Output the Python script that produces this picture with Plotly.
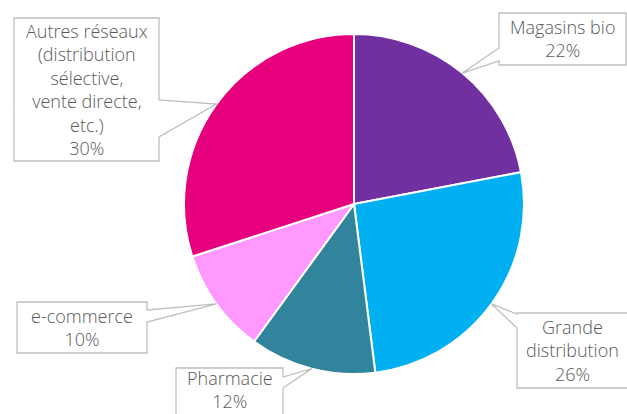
import math
import plotly.graph_objects as go

# ---- data ----
labels = ["Magasins bio", "Grande distribution", "Pharmacie", "e-commerce",
          "Autres réseaux (distribution sélective, vente directe, etc.)"]
label_text = ["Magasins bio", "Grande<br>distribution", "Pharmacie", "e-commerce",
              "Autres réseaux<br>(distribution<br>sélective,<br>vente directe,<br>etc.)"]
values = [22, 26, 12, 10, 30]
colors = ["#7030A0", "#00B0F0", "#31849B", "#FF99FF", "#E6007E"]

# ---- layout geometry (window pixels, origin top-left) ----
W, H = 627, 414
CX, CY, R = 354, 204, 170
# callout boxes: (x0, y0, x1, y1, side, base_a, base_b)
boxes = [
    (499, 13, 626, 65, "left", 48, 61),
    (517, 313, 640, 388, "left", 314, 328),
    (176, 368, 283, 430, "right", 377, 388),
    (17, 302, 147, 353, "right", 310, 322),
    (14, 18, 159, 161, "right", 100, 137),
]
text_dy = [0, 0, -3, 0, 0]

def px(x, y):
    return x / W, 1 - y / H

dx0, dy1 = px(CX - R, CY - R)
dx1, dy0 = px(CX + R, CY + R)
fig = go.Figure(go.Pie(
    labels=labels, values=values, sort=False, direction="clockwise", rotation=0,
    marker=dict(colors=colors, line=dict(color="white", width=2)),
    textinfo="none", hoverinfo="label+percent", showlegend=False,
    domain=dict(x=[dx0, dx1], y=[dy0, dy1]),
))

total = sum(values)
cum = 0
shapes, annotations = [], []
for i, v in enumerate(values):
    theta = math.radians((cum + v / 2) / total * 360)
    cum += v
    tx, ty = CX + R * math.sin(theta), CY - R * math.cos(theta)
    x0, y0, x1, y1, side, a, b = boxes[i]
    if side == "left":
        pts = [(x0, y0), (x1, y0), (x1, y1), (x0, y1), (x0, b), (tx, ty), (x0, a)]
    else:
        pts = [(x0, y0), (x1, y0), (x1, a), (tx, ty), (x1, b), (x1, y1), (x0, y1)]
    path = ""
    for j, (x, y) in enumerate(pts):
        X, Y = px(x, y)
        path += ("M" if j == 0 else "L") + f"{X:.5f},{Y:.5f} "
    path += "Z"
    shapes.append(dict(type="path", path=path, xref="paper", yref="paper",
                       fillcolor="white", line=dict(color="#BFBFBF", width=1.3)))
    cxp, cyp = px((x0 + min(x1, W)) / 2, (y0 + min(y1, 416)) / 2 + text_dy[i])
    annotations.append(dict(
        x=cxp, y=cyp, xref="paper", yref="paper", xanchor="center", yanchor="middle",
        text=f"{label_text[i]}<br>{round(v / total * 100)}%", showarrow=False,
        font=dict(family="Open Sans", size=18, color="#595959", weight=300),
        align="center"))

fig.update_layout(width=W, height=H, margin=dict(l=0, r=0, t=0, b=0),
                  paper_bgcolor="white", plot_bgcolor="white",
                  shapes=shapes, annotations=annotations)
fig.write_html("out.html", config={"displayModeBar": False},
               post_script="document.body.style.margin='0';document.body.style.overflow='hidden';")
